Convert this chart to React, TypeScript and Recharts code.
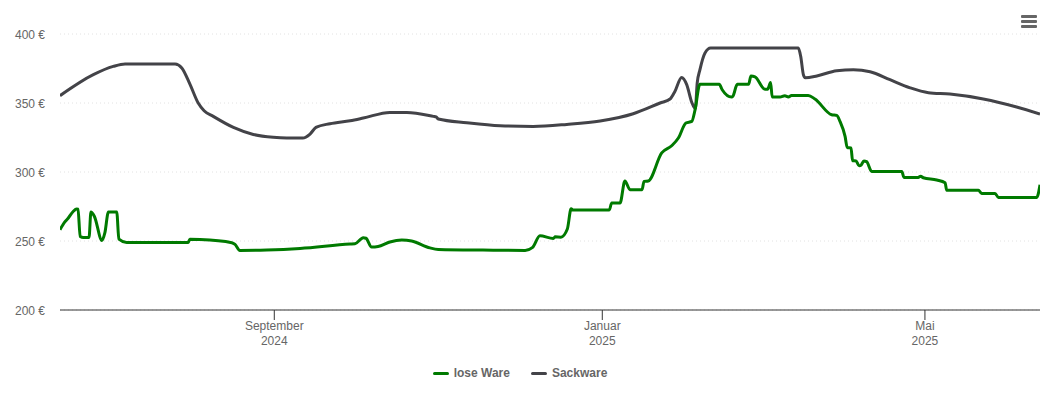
import React from "react";
import { LineChart, Line, XAxis, YAxis, CartesianGrid, Legend } from "recharts";

// x values are days counted from 2024-01-01
const looseDays = [164.3,166.1,167.4,169.2,170.5,171.0,171.8,173.0,175.1,175.8,177.1,179.9,181.0,182.3,185.4,186.2,189.1,212.0,212.6,216.4,228.2,229.4,231.2,241.2,253.6,272.2,274.0,277.1,278.1,280.2,282.6,287.0,291.4,295.1,301.9,305.0,321.6,337.3,340.1,342.8,347.8,348.5,350.6,353.0,354.4,355.0,368.6,369.5,372.6,374.4,376.3,380.8,381.5,383.1,388.1,391.8,394.3,397.1,399.3,400.5,402.3,409.5,410.6,414.1,414.6,416.2,420.4,421.3,422.8,426.5,427.5,428.6,429.2,432.1,433.9,435.2,436.4,442.6,445.1,451.3,453.2,454.4,456.3,457.1,458.5,459.1,460.4,461.5,462.1,463.3,464.3,466.2,477.4,478.2,483.5,484.4,485.4,490.4,493.5,494.1,505.9,507.1,512.1,513.3,527.6,528.8];
const looseValues = [258.2,263.8,266.7,271.4,273.2,273,253.3,252.6,252.6,271,267.8,250.4,256,271,271,251.4,249,249,251.2,251,248.8,247.5,243.2,243.5,244.6,247.8,248,252.4,252,245.6,246,249.3,250.7,250,245,243.9,243.4,243.2,245.4,253.8,251.9,253,252.8,258.7,273.4,272.5,272.5,277.5,277.5,293.5,287.2,287.2,293.2,293.5,313.8,319,324.6,335.5,336.7,345,363.5,363.5,359.6,354.3,355,363.5,363.5,369.6,369,360,360,364.9,354.3,354.3,355.3,354.4,355.5,355.5,352.9,341.5,341,336.7,325.8,317.8,317.5,308.2,308,304.6,304.7,308,307.5,300.4,300.4,296.1,296.1,297,295.8,294.2,292.2,286.7,286.7,284.5,284.5,281.6,281.6,290.8];
const sackDays = [164.3,176.7,184.1,188.5,207.1,209.6,212.7,215.7,217.9,221.3,228.8,236.2,243.6,248.6,254.6,257.3,259.5,264.7,272.2,277.1,287.0,293.3,303.2,304.2,305.0,315.6,328.0,340.3,352.8,365.2,377.5,387.5,391.2,393.0,395.5,397.4,399.3,400.6,401.3,402.3,404.2,406.3,438.9,439.8,440.8,441.5,445.8,453.2,459.4,465.6,473.0,480.5,487.3,495.3,507.7,520.1,528.8];
const sackValues = [355.3,370.5,376.5,378.3,378.3,375.4,363.3,350,344.4,340.3,332.3,327.2,325.1,324.6,324.6,327.5,332.3,335,337.2,339.1,343.2,343.2,340.3,339.9,338.4,335.7,333.5,333,334.5,337,342.2,350,352.9,358.4,368.5,363.3,350.4,345.9,364.5,374,386.2,389.8,389.8,383.8,370.5,368.3,369.6,373.4,374.1,372.7,366.9,361,357.5,356.5,352.9,347.1,342];

const yTicks = [200, 250, 300, 350, 400];
const xTicks = [244, 366, 486];
const xTickMonths = ["September", "Januar", "Mai"];
const xTickYears = ["2024", "2025", "2025"];
const seriesNames = ["lose Ware", "Sackware"];
const seriesColors = ["#007a00", "#434348"];

const looseData = looseDays.map((day, i) => ({ day, value: looseValues[i] }));
const sackData = sackDays.map((day, i) => ({ day, value: sackValues[i] }));

const FONT = '"Liberation Sans", Arial, Helvetica, sans-serif';

function XTick(props: any) {
  const { x, y, payload } = props;
  const i = xTicks.indexOf(payload.value);
  return (
    <text x={x} textAnchor="middle" fontFamily={FONT} fontSize={12} fill="#666666">
      <tspan x={x} y={y + 8}>{xTickMonths[i]}</tspan>
      <tspan x={x} y={y + 23}>{xTickYears[i]}</tspan>
    </text>
  );
}

function YTick(props: any) {
  const { x, y, payload } = props;
  return (
    <text x={x + 6} y={y + 5} textAnchor="end" fontFamily={FONT} fontSize={12} fill="#666666">
      {`${payload.value} €`}
    </text>
  );
}

function LegendContent() {
  return (
    <div style={{ display: "flex", justifyContent: "center", alignItems: "center", gap: 21, fontFamily: FONT, fontSize: 12, fontWeight: 700, color: "#666666", lineHeight: "14px" }}>
      {seriesNames.map((name, i) => (
        <div key={name} style={{ display: "flex", alignItems: "center", gap: 5 }}>
          <span style={{ display: "inline-block", width: 16, height: 3, borderRadius: 2, background: seriesColors[i] }} />
          <span>{name}</span>
        </div>
      ))}
    </div>
  );
}

export default function App() {
  return (
    <div style={{ position: "absolute", left: 0, top: 0, width: 1050, height: 400, background: "#fff" }}>
      <LineChart width={1050} height={400} margin={{ top: 34, right: 10, bottom: 16, left: 0 }}>
        <CartesianGrid horizontal vertical={false} stroke="#e2e2e2" strokeDasharray="1 3" />
        <XAxis
          type="number"
          dataKey="day"
          domain={[164.3, 528.8]}
          allowDataOverflow
          ticks={xTicks}
          tick={<XTick />}
          tickSize={10}
          interval={0}
          stroke="#333333"
          tickLine={{ stroke: "#333333" }}
          height={60}
        />
        <YAxis
          type="number"
          domain={[200, 400]}
          ticks={yTicks}
          width={60}
          axisLine={false}
          tickLine={false}
          tickMargin={15}
          tick={<YTick />}
        />
        <Legend content={<LegendContent />} wrapperStyle={{ left: 0, top: 366, width: 1040, height: 14 }} />
        <Line name={seriesNames[1]} data={sackData} dataKey="value" type="monotone" stroke={seriesColors[1]} strokeWidth={3} dot={false} activeDot={false} isAnimationActive={false} legendType="none" />
        <Line name={seriesNames[0]} data={looseData} dataKey="value" type="monotone" stroke={seriesColors[0]} strokeWidth={3} dot={false} activeDot={false} isAnimationActive={false} legendType="none" />
      </LineChart>
      <svg width={18} height={16} style={{ position: "absolute", left: 1020, top: 14 }}>
        <rect x={1} y={1} width={16} height={3} rx={1} fill="#666666" />
        <rect x={1} y={6} width={16} height={3} rx={1} fill="#666666" />
        <rect x={1} y={11} width={16} height={3} rx={1} fill="#666666" />
      </svg>
    </div>
  );
}
